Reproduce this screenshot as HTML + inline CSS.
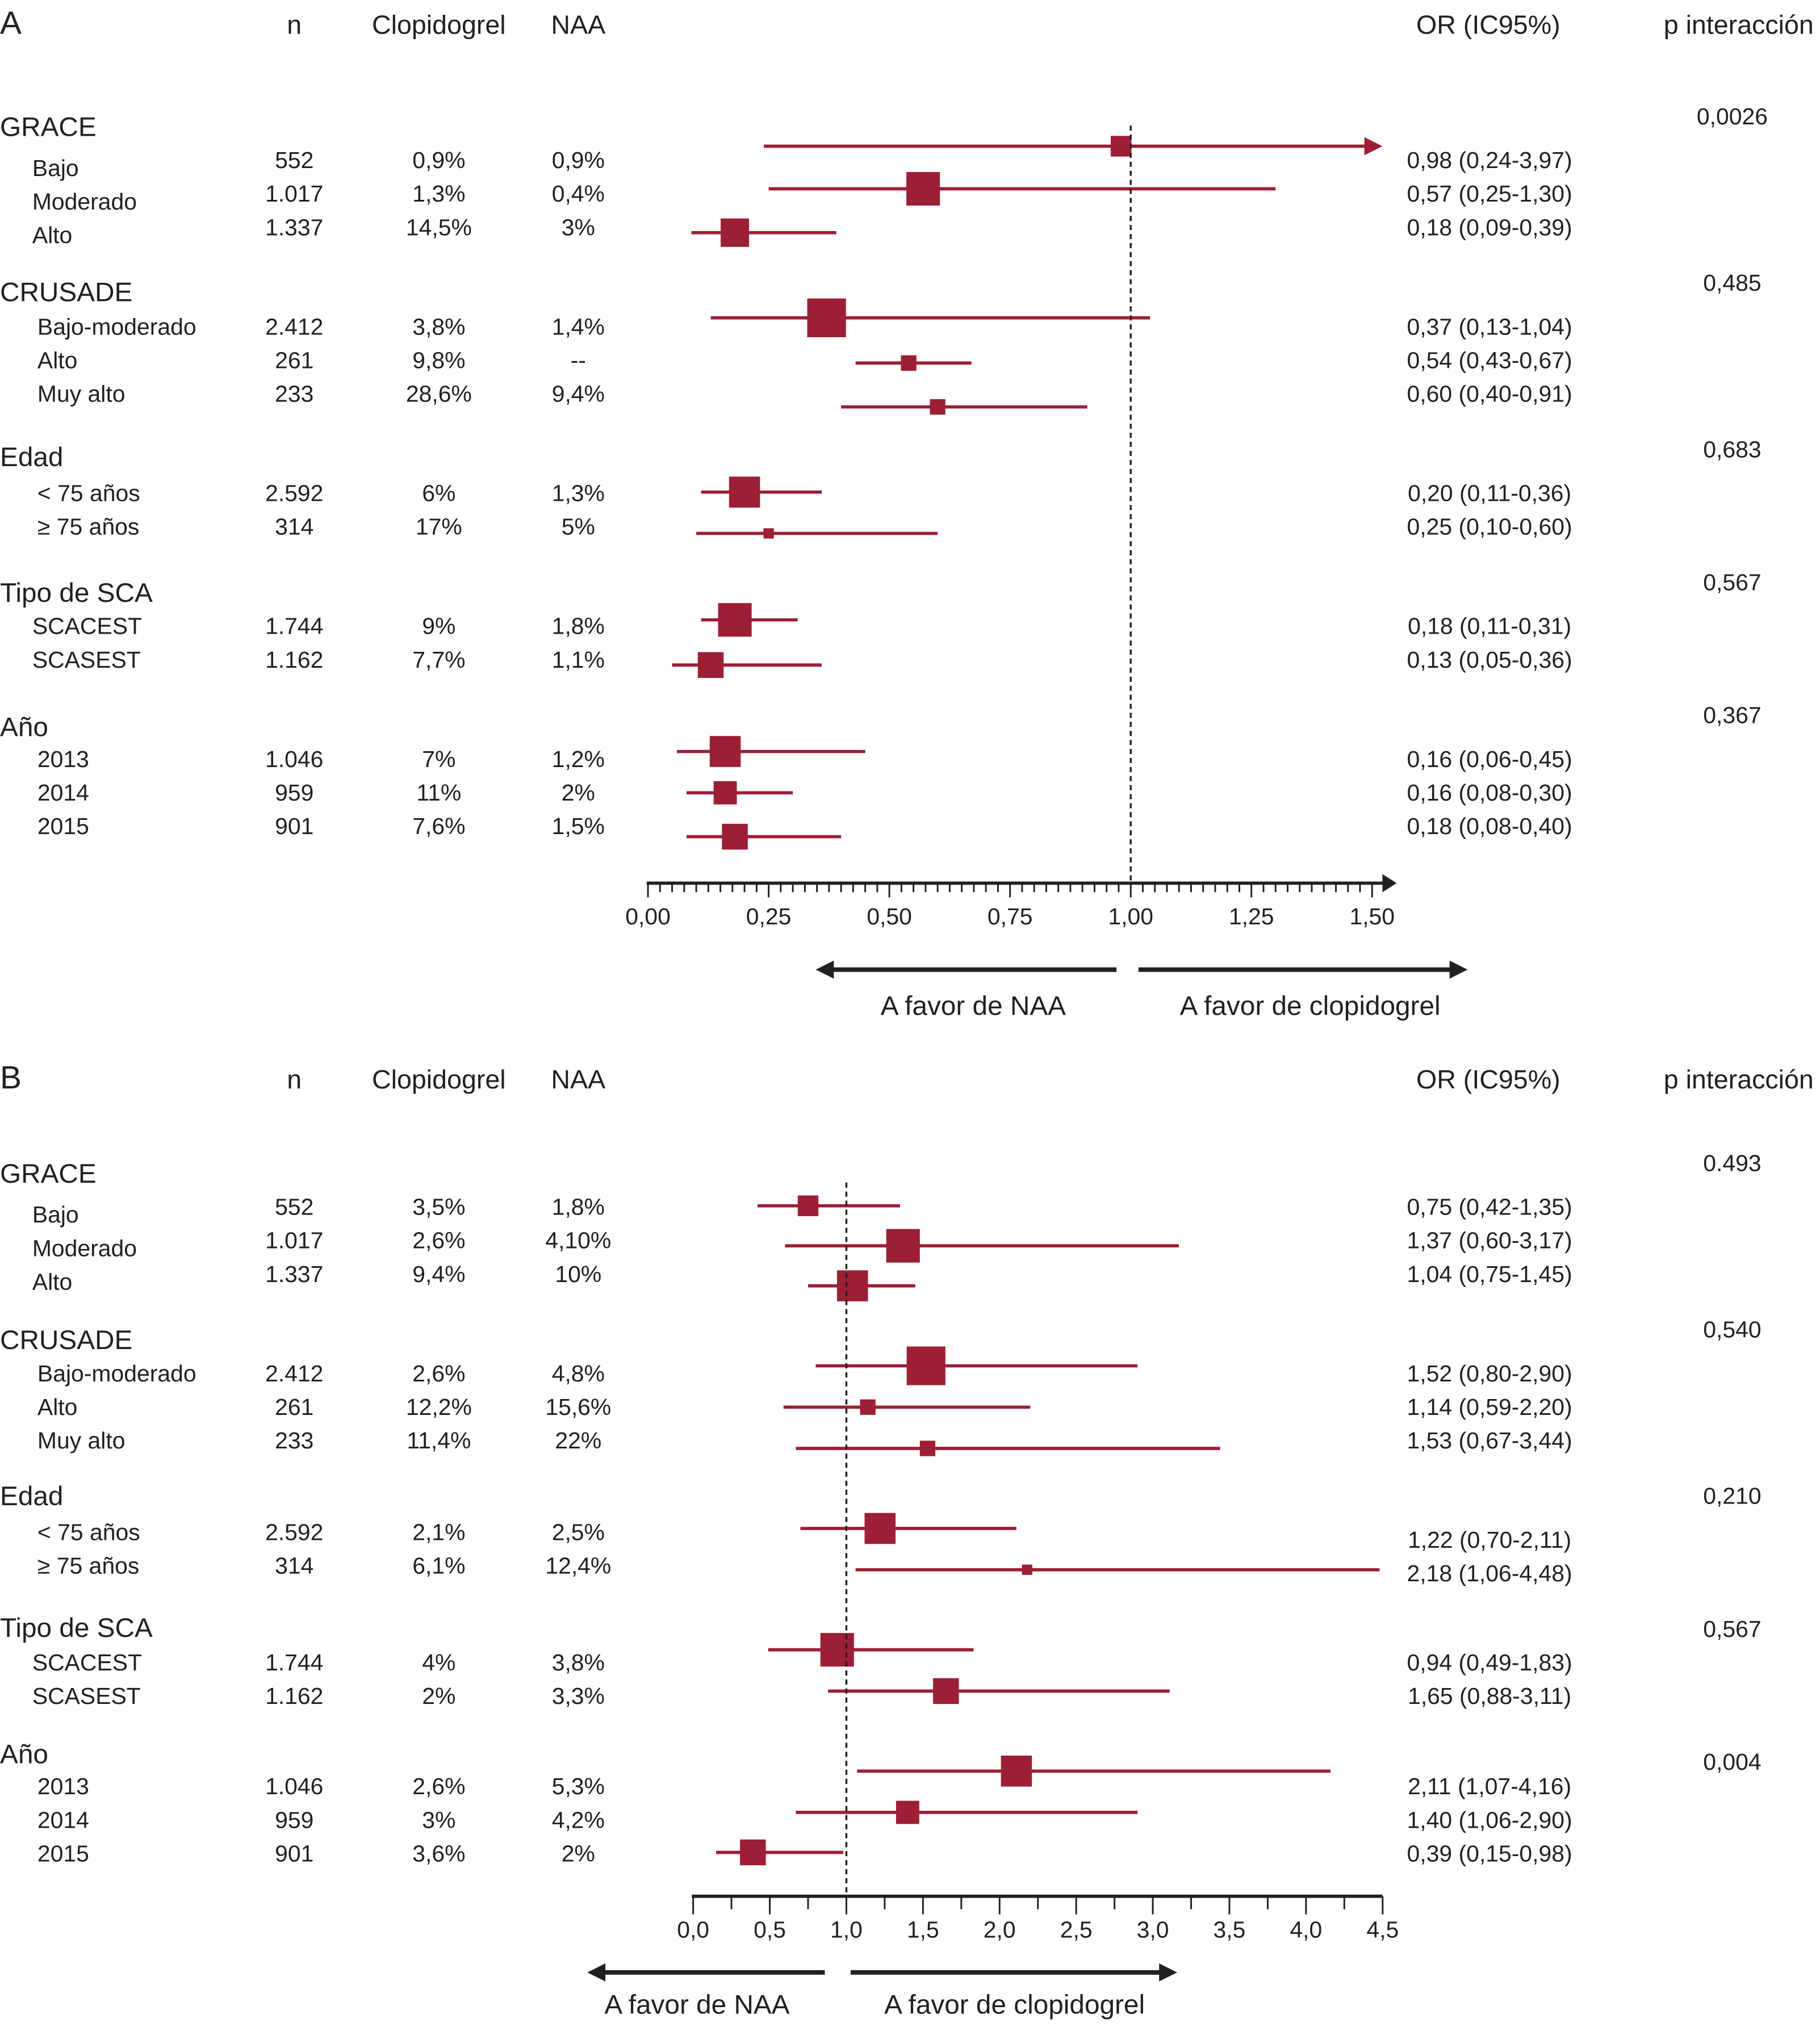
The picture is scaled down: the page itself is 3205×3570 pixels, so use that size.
<!DOCTYPE html>
<html><head><meta charset="utf-8"><style>
html,body{margin:0;padding:0;background:#fff}
svg{display:block;font-family:"Liberation Sans",Arial,sans-serif}
</style></head><body>
<svg id="chart" width="3205" height="3570" viewBox="0 0 1410 1570" xmlns="http://www.w3.org/2000/svg"></svg>
<script>
// ---- Panel A data ----
const labelsA = ["Bajo","Moderado","Alto","Bajo-moderado","Alto","Muy alto","< 75 años","≥ 75 años","SCACEST","SCASEST","2013","2014","2015"];
const nA = ["552","1.017","1.337","2.412","261","233","2.592","314","1.744","1.162","1.046","959","901"];
const clopA = ["0,9%","1,3%","14,5%","3,8%","9,8%","28,6%","6%","17%","9%","7,7%","7%","11%","7,6%"];
const naaA = ["0,9%","0,4%","3%","1,4%","--","9,4%","1,3%","5%","1,8%","1,1%","1,2%","2%","1,5%"];
const orA = [0.98,0.57,0.18,0.37,0.54,0.60,0.20,0.25,0.18,0.13,0.16,0.16,0.18];
const loA = [0.24,0.25,0.09,0.13,0.43,0.40,0.11,0.10,0.11,0.05,0.06,0.08,0.08];
const hiA = [3.97,1.30,0.39,1.04,0.67,0.91,0.36,0.60,0.31,0.36,0.45,0.30,0.40];
const orTextA = ["0,98 (0,24-3,97)","0,57 (0,25-1,30)","0,18 (0,09-0,39)","0,37 (0,13-1,04)","0,54 (0,43-0,67)","0,60 (0,40-0,91)","0,20 (0,11-0,36)","0,25 (0,10-0,60)","0,18 (0,11-0,31)","0,13 (0,05-0,36)","0,16 (0,06-0,45)","0,16 (0,08-0,30)","0,18 (0,08-0,40)"];
const weightA = [8,13,11,15,6,6,12,4,13,10,12,9,10];
const pA = ["0,0026","0,485","0,683","0,567","0,367"];
const ticksA = [0,0.25,0.5,0.75,1,1.25,1.5];
const tickLabelsA = ["0,00","0,25","0,50","0,75","1,00","1,25","1,50"];
// ---- Panel B data ----
const nB = nA;
const clopB = ["3,5%","2,6%","9,4%","2,6%","12,2%","11,4%","2,1%","6,1%","4%","2%","2,6%","3%","3,6%"];
const naaB = ["1,8%","4,10%","10%","4,8%","15,6%","22%","2,5%","12,4%","3,8%","3,3%","5,3%","4,2%","2%"];
const orB = [0.75,1.37,1.04,1.52,1.14,1.53,1.22,2.18,0.94,1.65,2.11,1.40,0.39];
const loB = [0.42,0.60,0.75,0.80,0.59,0.67,0.70,1.06,0.49,0.88,1.07,0.67,0.15];
const hiB = [1.35,3.17,1.45,2.90,2.20,3.44,2.11,4.48,1.83,3.11,4.16,2.90,0.98];
const orTextB = ["0,75 (0,42-1,35)","1,37 (0,60-3,17)","1,04 (0,75-1,45)","1,52 (0,80-2,90)","1,14 (0,59-2,20)","1,53 (0,67-3,44)","1,22 (0,70-2,11)","2,18 (1,06-4,48)","0,94 (0,49-1,83)","1,65 (0,88-3,11)","2,11 (1,07-4,16)","1,40 (1,06-2,90)","0,39 (0,15-0,98)"];
const weightB = [8,13,12,15,6,6,12,4,13,10,12,9,10];
const pB = ["0.493","0,540","0,210","0,567","0,004"];
const ticksB = [0,0.5,1,1.5,2,2.5,3,3.5,4,4.5];
const tickLabelsB = ["0,0","0,5","1,0","1,5","2,0","2,5","3,0","3,5","4,0","4,5"];
const groups = ["GRACE","CRUSADE","Edad","Tipo de SCA","Año"];

const NS="http://www.w3.org/2000/svg";
const svg=document.getElementById('chart');
const RED="#9c1f35";
function el(tag,attrs,parent){const e=document.createElementNS(NS,tag);for(const k in attrs)e.setAttribute(k,attrs[k]);(parent||svg).appendChild(e);return e;}
function txt(s,x,y,size,anchor,parent){const t=el('text',{x:x,y:y,'font-size':size,'text-anchor':anchor||'start',fill:'#231f20'},parent);t.textContent=s;return t;}

function panel(cfg){
  const g=el('g',{});
  
  
  const X=v=>cfg.x0+(v-cfg.v0)*cfg.unit;
  const o=0;
  const hy=cfg.headerY;
  const L=txt(cfg.letter,0,hy,25,'start',g);
  
  const heads=[["n",228],["Clopidogrel",340],["NAA",448],["OR (IC95%)",1153],["p interacción",1347]];
  heads.forEach(h=>{const t=txt(h[0],h[1],hy,20.5,'middle',g);});
  cfg.groupY.forEach((gy,i)=>{
    const t=txt(groups[i],0,gy,21,'start',g);
    
    const p=txt(cfg.p[i],1342,cfg.pY[i],18,'middle',g);
    
  });
  const indent=[25,25,25,29,29,29,29,29,25,25,29,29,29];
  labelsA.forEach((lab,i)=>{
    const ty=cfg.textY[i], ly=(cfg.textOR?cfg.textOR[i]:cfg.textY[i]);
    let t=txt(lab,indent[i],ty+(cfg.labelShift?cfg.labelShift[i]:0),18,'start',g);
    
    t=txt(cfg.n[i],228,ty,18,'middle',g);
    t=txt(cfg.clop[i],340,ty,18,'middle',g);
    t=txt(cfg.naa[i],448,ty,18,'middle',g);
    t=txt(cfg.orText[i],1154,ly,18,'middle',g);
    const my=cfg.markY[i];
    const hi=Math.min(cfg.hi[i],cfg.vmax);
    const ln=el('line',{x1:X(cfg.lo[i]),x2:X(hi),y1:my,y2:my,stroke:RED,'stroke-width':2.5},g);
    
    if(cfg.hi[i]>cfg.vmax){
      const ax=X(cfg.vmax)+8;
      const a=el('polygon',{points:`${ax},${my} ${ax-14},${my-7} ${ax-14},${my+7}`,fill:RED},g);
      
    }
    const w=cfg.weight[i];
    const sq=el('rect',{x:X(cfg.or[i])-w,y:my-w,width:2*w,height:2*w,fill:RED},g);
    
  });
  const ref=el('line',{x1:X(1),x2:X(1),y1:cfg.refTop,y2:cfg.axisY,stroke:'#231f20','stroke-width':1.5,'stroke-dasharray':'4,3'},g);
  
  const ay=cfg.axisY;
  const ax=el('line',{x1:X(cfg.v0)-1,x2:cfg.axisEnd,y1:ay,y2:ay,stroke:'#231f20','stroke-width':2.5},g);
  
  if(cfg.axisArrow){
    const ar=el('polygon',{points:`${cfg.axisEnd+8},${ay} ${cfg.axisEnd-3},${ay-7} ${cfg.axisEnd-3},${ay+7}`,fill:'#231f20'},g);
    
  }
  const nMinor=Math.round((cfg.ticks[cfg.ticks.length-1]-cfg.ticks[0])/cfg.minor);
  for(let k=0;k<=nMinor;k++){
    const v=cfg.ticks[0]+k*cfg.minor;
    const major=cfg.ticks.some(t=>Math.abs(t-v)<1e-6);
    const tk=el('line',{x1:X(v),x2:X(v),y1:ay,y2:ay+(major?cfg.majorLen:cfg.minorLen),stroke:'#231f20','stroke-width':1.3},g);
    
  }
  cfg.ticks.forEach((v,i)=>{const t=txt(cfg.tickLabels[i],X(v),ay+32,18,'middle',g);});
  const dy=cfg.dirY;
  let a1=el('line',{x1:cfg.leftArrow[1],x2:cfg.leftArrow[0]+10,y1:dy,y2:dy,stroke:'#231f20','stroke-width':3.5},g);
  
  let p1=el('polygon',{points:`${cfg.leftArrow[0]},${dy} ${cfg.leftArrow[0]+14},${dy-7} ${cfg.leftArrow[0]+14},${dy+7}`,fill:'#231f20'},g);
  
  let a2=el('line',{x1:cfg.rightArrow[0],x2:cfg.rightArrow[1]-10,y1:dy,y2:dy,stroke:'#231f20','stroke-width':3.5},g);
  
  let p2=el('polygon',{points:`${cfg.rightArrow[1]},${dy} ${cfg.rightArrow[1]-14},${dy-7} ${cfg.rightArrow[1]-14},${dy+7}`,fill:'#231f20'},g);
  
  let t1=txt("A favor de NAA",cfg.favLabX[0],dy+cfg.favLabDy,21,'middle',g);
  
  let t2=txt("A favor de clopidogrel",cfg.favLabX[1],dy+cfg.favLabDy,21,'middle',g);
  
}

panel({name:'panel-a',letter:'A',headerY:26,x0:502,v0:0,unit:374,vmax:1.5,
  n:nA,clop:clopA,naa:naaA,or:orA,lo:loA,hi:hiA,orText:orTextA,weight:weightA,p:pA,
  groupY:[105,233,361,466,570],pY:[96,225,354,457,560],
  textY:[130,156,182,259,285,311,388,414,491,517,594,620,646],
  labelShift:[6,6,6,0,0,0,0,0,0,0,0,0,0],
  markY:[113,146,180,246,281,315,381,413,480,515,582,614,648],
  refTop:97,axisY:684,axisEnd:1074,axisArrow:true,ticks:ticksA,tickLabels:tickLabelsA,minor:0.025,majorLen:11,minorLen:7,
  dirY:751,leftArrow:[632,865],rightArrow:[882,1137],favLabX:[754,1015],favLabDy:35});

panel({name:'panel-b',letter:'B',headerY:843,x0:537,v0:0,unit:118.7,vmax:4.5,
  n:nB,clop:clopB,naa:naaB,or:orB,lo:loB,hi:hiB,orText:orTextB,weight:weightB,p:pB,
  groupY:[916,1045,1166,1268,1366],pY:[907,1036,1165,1268,1371],
  textY:[941,967,993,1070,1096,1122,1193,1219,1294,1320,1390,1416,1442],
  textOR:[941,967,993,1070,1096,1122,1199,1225,1294,1320,1390,1416,1442],
  labelShift:[6,6,6,0,0,0,0,0,0,0,0,0,0],
  markY:[934,965,996,1058,1090,1122,1184,1216,1278,1310,1372,1404,1435],
  refTop:916,axisY:1469,axisEnd:1071,axisArrow:false,ticks:ticksB,tickLabels:tickLabelsB,minor:0.25,majorLen:14,minorLen:10,
  dirY:1528,leftArrow:[455,639],rightArrow:[659,912],favLabX:[540,786],favLabDy:32});
</script>
</body></html>
